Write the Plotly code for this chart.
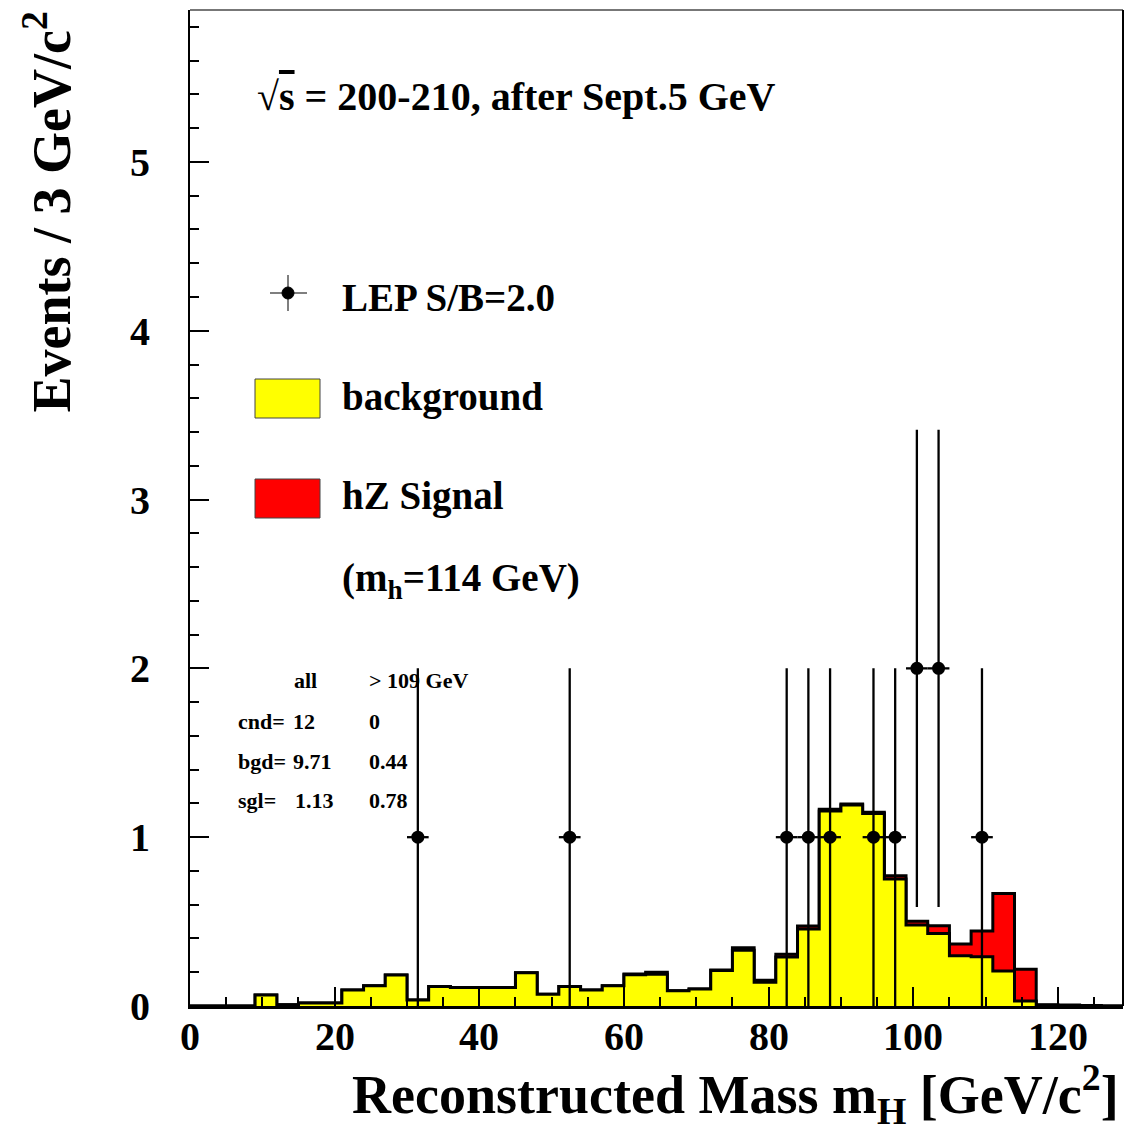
import plotly.graph_objects as go
import numpy as np

# ---------------- data ----------------
bin_width = 3.0
bin_left = [0, 3, 6, 9, 12, 15, 18, 21, 24, 27, 30, 33, 36, 39, 42, 45, 48, 51, 54, 57,
            60, 63, 66, 69, 72, 75, 78, 81, 84, 87, 90, 93, 96, 99, 102, 105, 108, 111,
            114, 117, 120, 123, 126]
background = [0, 0, 0, 0.065, 0.008, 0.018, 0.018, 0.095, 0.12, 0.184, 0.036, 0.115, 0.11,
              0.11, 0.11, 0.197, 0.069, 0.115, 0.095, 0.12, 0.185, 0.188, 0.09, 0.1, 0.21,
              0.33, 0.14, 0.29, 0.456, 1.155, 1.19, 1.14, 0.752, 0.48, 0.43, 0.298, 0.292,
              0.207, 0.03, 0.004, 0.003, 0.001, 0.0]
signal = [0, 0, 0, 0, 0, 0, 0, 0, 0, 0, 0, 0, 0, 0, 0, 0, 0, 0, 0, 0,
          0.005, 0.012, 0, 0, 0.003, 0.015, 0.012, 0.016, 0.018, 0.01, 0.007, 0.007, 0.02,
          0.022, 0.046, 0.069, 0.152, 0.46, 0.187, 0.004, 0.003, 0.002, 0.0]
data_x = [31.5, 52.5, 82.5, 85.5, 88.5, 94.5, 97.5, 100.5, 103.5, 109.5]
data_n = [1, 1, 1, 1, 1, 1, 1, 2, 2, 1]

x_ticks = [0, 20, 40, 60, 80, 100, 120]
y_ticks = [0, 1, 2, 3, 4, 5]

FONT = "Liberation Serif"

total = [b + s for b, s in zip(background, signal)]
step_x = list(bin_left) + [bin_left[-1] + bin_width]
step_tot = total + [total[-1]]
step_bg = background + [background[-1]]

fig = go.Figure()
fig.add_trace(go.Scatter(x=step_x, y=step_tot, mode="lines", line=dict(shape="hv", color="black", width=3),
                         fill="tozeroy", fillcolor="#ff0000", showlegend=False, hoverinfo="skip"))
fig.add_trace(go.Scatter(x=step_x, y=step_bg, mode="lines", line=dict(shape="hv", color="black", width=3),
                         fill="tozeroy", fillcolor="#ffff00", showlegend=False, hoverinfo="skip"))
fig.add_trace(go.Scatter(x=data_x, y=data_n, mode="markers",
                         marker=dict(color="black", size=13),
                         error_y=dict(type="data", array=list(np.sqrt(data_n)), color="black", thickness=2.3, width=0),
                         error_x=dict(type="constant", value=bin_width / 2, color="black", thickness=2.3, width=0),
                         showlegend=False))

# geometry helpers (paper coords)
X0, X1, Y0, Y1 = 190, 1123, 10, 1006
def px(x):
    return (x - X0) / (X1 - X0)
def py(y):
    return (Y1 - y) / (Y1 - Y0)

shapes = []
# frame top (gray) and right (black)
shapes.append(dict(type="line", xref="paper", yref="paper", x0=0, x1=1, y0=1, y1=1, line=dict(color="#777777", width=2)))
shapes.append(dict(type="line", xref="paper", yref="paper", x0=1, x1=1, y0=0, y1=1, line=dict(color="black", width=2)))
# legend: data marker cross
shapes.append(dict(type="line", xref="paper", yref="paper", x0=px(270), x1=px(307), y0=py(293), y1=py(293), line=dict(color="#555555", width=1.5)))
shapes.append(dict(type="line", xref="paper", yref="paper", x0=px(288), x1=px(288), y0=py(275), y1=py(311), line=dict(color="#555555", width=1.5)))
shapes.append(dict(type="circle", xref="paper", yref="paper", x0=px(282), x1=px(294), y0=py(287), y1=py(299), fillcolor="black", line=dict(color="black", width=1)))
# legend boxes
shapes.append(dict(type="rect", xref="paper", yref="paper", x0=px(255), x1=px(320), y0=py(379), y1=py(418), fillcolor="#ffff00", line=dict(color="#444444", width=1)))
shapes.append(dict(type="rect", xref="paper", yref="paper", x0=px(255), x1=px(320), y0=py(479), y1=py(518), fillcolor="#ff0000", line=dict(color="#444444", width=1)))

ann = []
def text(x, y, s, size, xanchor="left", yanchor="middle", angle=0):
    ann.append(dict(x=px(x), y=py(y), xref="paper", yref="paper", text=s, showarrow=False,
                    xanchor=xanchor, yanchor=yanchor, textangle=angle,
                    font=dict(family=FONT, size=size, color="black", weight="bold")))

text(255, 97, "√<span style='text-decoration:overline'>s</span> = 200-210, after Sept.5 GeV", 40)
text(340, 297, "LEP S/B=2.0", 39)
text(340, 397, "background", 39)
text(340, 496, "hZ Signal", 39)
text(340, 580, "(m<sub>h</sub>=114 GeV)", 39)
# small table
text(292, 681, "all", 22)
text(367, 681, "> 109 GeV", 22)
text(236, 721, "cnd=", 22)
text(291, 721, "12", 22)
text(367, 721, "0", 22)
text(236, 761, "bgd=", 22)
text(291, 761, "9.71", 22)
text(367, 761, "0.44", 22)
text(236, 800, "sgl=", 22)
text(293, 800, "1.13", 22)
text(367, 800, "0.78", 22)
# x tick labels (placed at data x positions)
for v in x_ticks:
    ann.append(dict(x=v, y=py(1036), xref="x", yref="paper", text=str(v), showarrow=False,
                    xanchor="center", yanchor="middle",
                    font=dict(family=FONT, size=40, color="black", weight="bold")))
# axis titles
text(1121, 1094, "Reconstructed Mass m<sub>H</sub> [GeV/c<sup>2</sup>]", 54, xanchor="right")
ann.append(dict(x=px(48), y=1.0, xref="paper", yref="paper", text="Events / 3 GeV/c<sup>2</sup>",
                showarrow=False, xanchor="center", yanchor="top", textangle=-90,
                font=dict(family=FONT, size=54, color="black", weight="bold")))

fig.update_layout(
    width=1126, height=1135,
    margin=dict(l=190, r=3, t=10, b=129),
    paper_bgcolor="white", plot_bgcolor="white",
    shapes=shapes, annotations=ann,
    xaxis=dict(range=[0, 129], tickvals=x_ticks, showticklabels=False,
               ticks="inside", ticklen=19, tickwidth=2, tickcolor="black",
               minor=dict(dtick=5, tick0=0, ticks="inside", ticklen=9, tickwidth=2, tickcolor="black"),
               showline=True, linecolor="black", linewidth=3, showgrid=False, zeroline=False),
    yaxis=dict(range=[0, 5.9], tickvals=y_ticks, ticktext=[str(v) for v in y_ticks],
               ticks="inside", ticklen=19, tickwidth=2, tickcolor="black",
               minor=dict(dtick=0.2, tick0=0, ticks="inside", ticklen=9, tickwidth=2, tickcolor="black"),
               showline=True, linecolor="black", linewidth=2, showgrid=False, zeroline=False,
               tickfont=dict(family=FONT, size=40, color="black", weight="bold"),
               ticklabelstandoff=30),
)

fig.write_html("out.html")
